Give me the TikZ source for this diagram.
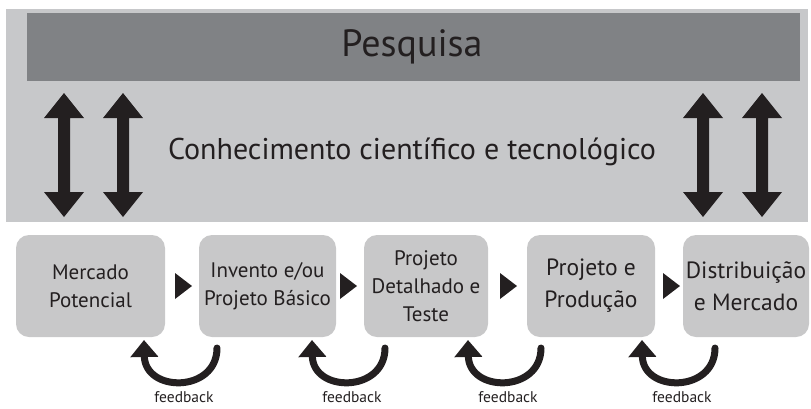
\documentclass[tikz,border=0pt]{standalone}
\usepackage{fontspec}
\setmainfont{PT Sans}
\usetikzlibrary{arrows.meta}
\definecolor{outergray}{HTML}{C7C8CA}
\definecolor{bandgray}{HTML}{808285}
\definecolor{boxgray}{HTML}{C8C8C9}
\definecolor{ink}{HTML}{231F20}
\tikzset{
  stage/.style={rounded corners=13pt, fill=boxgray, minimum height=102pt, inner sep=0pt, align=center, text=ink},
  smalltext/.style={font=\fontsize{21}{28}\selectfont},
  bigtext/.style={font=\fontsize{23.5}{32}\selectfont},
  fbarrow/.style={draw=ink, line width=7pt, line cap=round, -{Triangle[width=27pt,length=17pt]}},
  fblabel/.style={font=\fontsize{15.5}{18}\selectfont, text=ink, inner sep=0pt},
  passtri/.style={fill=ink},
  vdouble/.style={fill=ink}
}
\begin{document}
\begin{tikzpicture}[x=1pt,y=-1pt]
\useasboundingbox (0,0) rectangle (811,408);
% background panels
\fill[outergray] (6,9) rectangle (808,222);
\fill[bandgray] (27,13) rectangle (800,81);
\node[text=ink, font=\fontsize{38}{40}\selectfont, inner sep=0pt] (pesq) at (412,47) {Pesquisa};
\node[text=ink, font=\fontsize{30}{34}\selectfont, inner sep=0pt] (conh) at (412,152) {Conhecimento científico e tecnológico};
% vertical double arrows
\foreach \x in {64,123,703,762}{
  \fill[vdouble] (\x,93) -- (\x+20,118) -- (\x+6,118) -- (\x+6,192) -- (\x+20,192) -- (\x,217)
     -- (\x-20,192) -- (\x-6,192) -- (\x-6,118) -- (\x-20,118) -- cycle;
}
% stages
\node[stage, smalltext, minimum width=149pt] (b1) at (90.5,286) {Mercado\\Potencial};
\node[stage, smalltext, minimum width=137pt] (b2) at (267.5,286) {Invento e/ou\\Projeto Básico};
\node[stage, smalltext, minimum width=124pt] (b3) at (426,286) {Projeto\\Detalhado e\\Teste};
\node[stage, bigtext, minimum width=128pt] (b4) at (591,286) {Projeto e\\Produção};
\node[stage, bigtext, minimum width=126pt] (b5) at (746,286) {Distribuição\\e Mercado};
% pass triangles
\foreach \x in {175,340,500,663}{
  \fill[passtri] (\x,273) -- (\x+17,286) -- (\x,299) -- cycle;
}
% feedback loops
\foreach \c/\i in {181/1,349/2,505/3,679/4}{
  \coordinate (fs\i) at (\c+36,348);
  \coordinate (fe\i) at (\c-37,340);
  \draw[fbarrow] (fs\i) .. controls (\c+36,393) and (\c-36,393) .. (fe\i);
  \node[fblabel] (fl\i) at (\c+3,397) {feedback};
}
\end{tikzpicture}
\end{document}
